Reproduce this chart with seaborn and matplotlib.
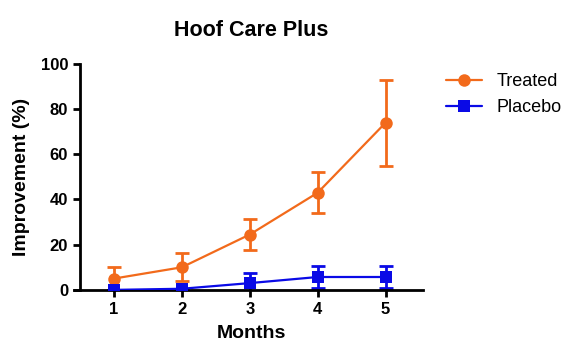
import matplotlib
matplotlib.use("Agg")
import matplotlib.pyplot as plt
import pandas as pd
import seaborn as sns

months = [1, 2, 3, 4, 5]
treated_mean = [5, 10, 24.5, 43, 74]
treated_err = [5.2, 6.2, 7, 9, 19]
placebo_mean = [0, 0.5, 3, 5.7, 5.7]
placebo_err = [0, 0, 4.5, 5, 5]

ORANGE = "#F26A1B"
BLUE = "#0A0AE6"

sns.set_style("ticks", {"text.color": "black", "axes.labelcolor": "black",
                        "xtick.color": "black", "ytick.color": "black",
                        "axes.edgecolor": "black"})
plt.rcParams["font.family"] = ["Liberation Sans", "DejaVu Sans"]

df = pd.DataFrame({
    "Months": months * 2,
    "Improvement": treated_mean + placebo_mean,
    "Group": ["Treated"] * 5 + ["Placebo"] * 5,
})

fig = plt.figure(figsize=(5.67, 3.61), dpi=100)
ax = fig.add_axes([0.141, 0.197, 0.605, 0.626])

ax.errorbar(months, treated_mean, yerr=treated_err, fmt="none", ecolor=ORANGE,
            elinewidth=2, capsize=5, capthick=2, zorder=2)
ax.errorbar(months, placebo_mean, yerr=placebo_err, fmt="none", ecolor=BLUE,
            elinewidth=2, capsize=5, capthick=2, zorder=2)

sns.lineplot(data=df, x="Months", y="Improvement", hue="Group", style="Group",
             palette={"Treated": ORANGE, "Placebo": BLUE},
             markers={"Treated": "o", "Placebo": "s"},
             dashes=False, markersize=9, markeredgewidth=0, linewidth=1.6,
             ax=ax, zorder=3)

ax.set_xlim(0.5, 5.55)
ax.set_ylim(0, 100)
ax.set_xticks(months)
ax.set_yticks([0, 20, 40, 60, 80, 100])
for lbl in ax.get_xticklabels() + ax.get_yticklabels():
    lbl.set_fontweight("bold")
ax.tick_params(axis="both", labelsize=12, width=2, length=5, color="black")
for s in ["left", "bottom"]:
    ax.spines[s].set_linewidth(2)
sns.despine(ax=ax)
ax.spines["bottom"].set_bounds(0.41, 5.55)

ax.set_xlabel("Months", fontsize=14, fontweight="bold", labelpad=6)
ax.set_ylabel("Improvement (%)", fontsize=14, fontweight="bold", labelpad=8)
ax.set_title("Hoof Care Plus", fontsize=15.5, fontweight="bold", pad=20)

leg = ax.legend(loc="upper left", bbox_to_anchor=(1.02, 1.03), frameon=False,
                fontsize=13, handlelength=2.0, handletextpad=0.8,
                labelspacing=0.5, title=None)

fig.savefig("out.png", dpi=100)
